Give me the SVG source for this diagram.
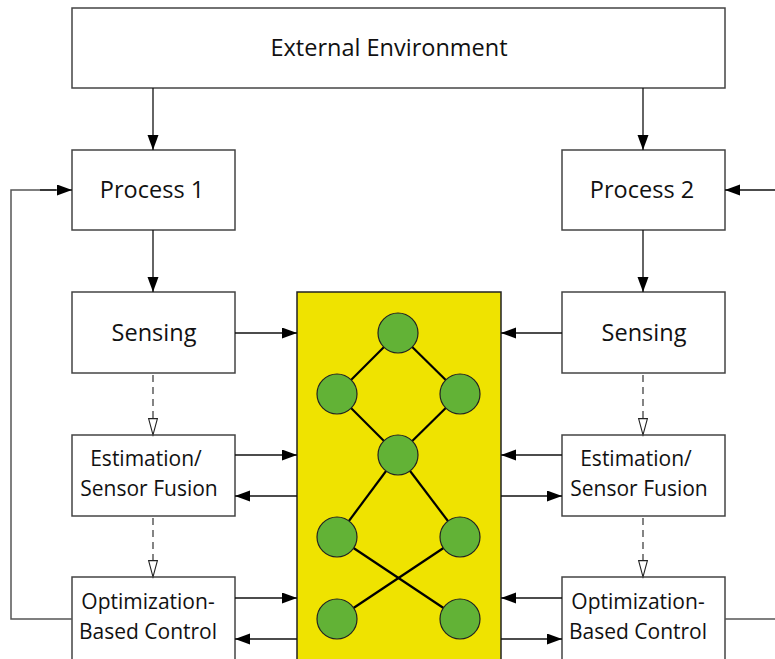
<svg xmlns="http://www.w3.org/2000/svg" width="775" height="659" viewBox="0 0 775 659">
<style>
.box{fill:#fff;stroke:#444;stroke-width:1.5}
.t{font-family:"Open Sans","Noto Sans",sans-serif;font-size:23.5px;fill:#111;text-anchor:middle}
.s{font-size:21px}
.c{stroke:#111;stroke-width:1.3;fill:none}
.fb{stroke:#555;stroke-width:1.5;fill:none}
.d{stroke:#333;stroke-width:1.2;fill:none;stroke-dasharray:7,5}
.e{stroke:#000;stroke-width:2.2}
.n{fill:#62B236;stroke:#222;stroke-width:1.2}
</style>
<defs>
<marker id="a" markerWidth="16" markerHeight="12" refX="15" refY="5.5" orient="auto" markerUnits="userSpaceOnUse">
<path d="M0,0 L15,5.5 L0,11 Z" fill="#000"/>
</marker>
<marker id="h" markerWidth="20" markerHeight="12" refX="17" refY="5" orient="auto" markerUnits="userSpaceOnUse">
<path d="M0.6,0.6 L17,5 L0.6,9.4 Z" fill="#fff" stroke="#222" stroke-width="1.1"/>
</marker>
</defs>
<g id="external"><rect class="box" x="72" y="8" width="653" height="80"/><text class="t" x="389" y="56">External Environment</text></g>
<g id="process1"><rect class="box" x="72" y="150" width="163" height="80"/><text class="t" x="152" y="198">Process 1</text></g>
<g id="process2"><rect class="box" x="562" y="150" width="163" height="80"/><text class="t" x="642" y="198">Process 2</text></g>
<g id="sensing1"><rect class="box" x="72" y="292" width="163" height="81"/><text class="t" x="154" y="341">Sensing</text></g>
<g id="sensing2"><rect class="box" x="562" y="292" width="163" height="81"/><text class="t" x="644" y="341">Sensing</text></g>
<g id="estimation1"><rect class="box" x="72" y="435" width="163" height="81"/><text class="t s" x="146" y="466">Estimation/</text><text class="t s" x="149" y="496">Sensor Fusion</text></g>
<g id="estimation2"><rect class="box" x="562" y="435" width="163" height="81"/><text class="t s" x="636" y="466">Estimation/</text><text class="t s" x="639" y="496">Sensor Fusion</text></g>
<g id="control1"><rect class="box" x="72" y="577" width="163" height="90"/><text class="t s" x="148" y="609">Optimization-</text><text class="t s" x="148" y="639">Based Control</text></g>
<g id="control2"><rect class="box" x="562" y="577" width="163" height="90"/><text class="t s" x="638" y="609">Optimization-</text><text class="t s" x="638" y="639">Based Control</text></g>
<g id="network">
<rect x="297" y="292" width="204" height="380" fill="#EFE300" stroke="#222" stroke-width="1.5"/>
<g class="e">
<line x1="398" y1="333" x2="337" y2="394"/><line x1="398" y1="333" x2="460" y2="394"/>
<line x1="337" y1="394" x2="398" y2="455"/><line x1="460" y1="394" x2="398" y2="455"/>
<line x1="398" y1="455" x2="337" y2="537"/><line x1="398" y1="455" x2="460" y2="537"/>
<line x1="337" y1="537" x2="460" y2="619"/><line x1="460" y1="537" x2="337" y2="619"/>
</g>
<circle class="n" cx="398" cy="333" r="20"/>
<circle class="n" cx="337" cy="394" r="20"/><circle class="n" cx="460" cy="394" r="20"/>
<circle class="n" cx="398" cy="455" r="20"/>
<circle class="n" cx="337" cy="537" r="20"/><circle class="n" cx="460" cy="537" r="20"/>
<circle class="n" cx="337" cy="619" r="20"/><circle class="n" cx="460" cy="619" r="20"/>
</g>
<g id="connectors">
<line class="c" x1="153" y1="88" x2="153" y2="150" marker-end="url(#a)"/>
<line class="c" x1="643" y1="88" x2="643" y2="150" marker-end="url(#a)"/>
<line class="c" x1="153" y1="230" x2="153" y2="292" marker-end="url(#a)"/>
<line class="c" x1="643" y1="230" x2="643" y2="292" marker-end="url(#a)"/>
<line class="d" x1="153" y1="375" x2="153" y2="435" marker-end="url(#h)"/>
<line class="d" x1="153" y1="518" x2="153" y2="577" marker-end="url(#h)"/>
<line class="d" x1="643" y1="375" x2="643" y2="435" marker-end="url(#h)"/>
<line class="d" x1="643" y1="518" x2="643" y2="577" marker-end="url(#h)"/>
<line class="c" x1="235" y1="333" x2="297" y2="333" marker-end="url(#a)"/>
<line class="c" x1="235" y1="455" x2="297" y2="455" marker-end="url(#a)"/>
<line class="c" x1="297" y1="496" x2="235" y2="496" marker-end="url(#a)"/>
<line class="c" x1="235" y1="598" x2="297" y2="598" marker-end="url(#a)"/>
<line class="c" x1="297" y1="639" x2="235" y2="639" marker-end="url(#a)"/>
<line class="c" x1="562" y1="333" x2="501" y2="333" marker-end="url(#a)"/>
<line class="c" x1="562" y1="455" x2="501" y2="455" marker-end="url(#a)"/>
<line class="c" x1="501" y1="496" x2="562" y2="496" marker-end="url(#a)"/>
<line class="c" x1="562" y1="598" x2="501" y2="598" marker-end="url(#a)"/>
<line class="c" x1="501" y1="639" x2="562" y2="639" marker-end="url(#a)"/>
<polyline class="fb" points="72,619 11,619 11,190 56,190"/>
<line class="c" x1="40" y1="190" x2="72" y2="190" marker-end="url(#a)"/>
<line class="c" x1="775" y1="190" x2="725" y2="190" marker-end="url(#a)"/>
<line class="fb" x1="725" y1="619" x2="775" y2="619"/>
</g>
</svg>
